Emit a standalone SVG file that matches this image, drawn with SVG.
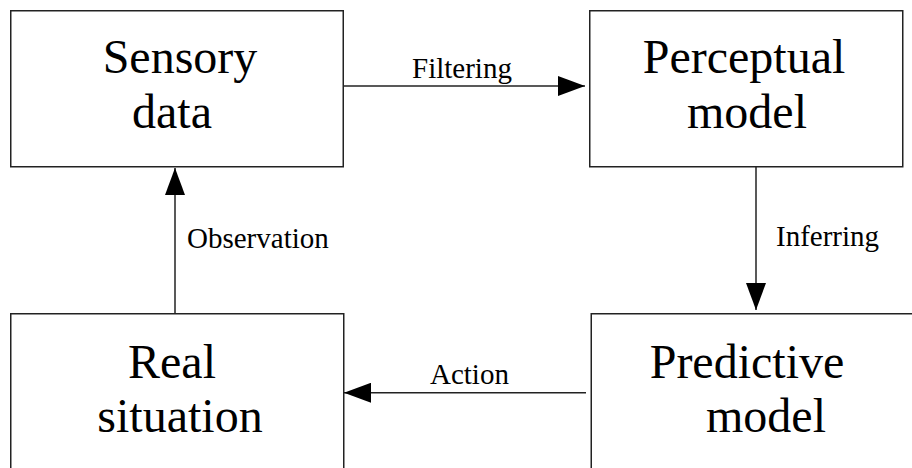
<svg xmlns="http://www.w3.org/2000/svg" width="912" height="468" viewBox="0 0 912 468">
  <style>
    .box { fill: #ffffff; stroke: #222222; stroke-width: 1.5; }
    .big { font-family: "Liberation Serif", "Times New Roman", serif; font-size: 48px; fill: #000000; text-anchor: middle; }
    .lbl { font-family: "Liberation Serif", "Times New Roman", serif; font-size: 29px; fill: #000000; }
    .edge { stroke: #222222; stroke-width: 1.5; fill: none; }
  </style>
  <defs>
    <marker id="arrow" viewBox="0 0 27 20" refX="27" refY="10" markerWidth="27" markerHeight="20" markerUnits="userSpaceOnUse" orient="auto">
      <path d="M0,0 L27,10 L0,20 Z" fill="#000000"/>
    </marker>
  </defs>
  <rect width="912" height="468" fill="#ffffff"/>

  <g id="sensory-data">
    <rect class="box" x="10.75" y="10.75" width="332.5" height="156"/>
    <text class="big" x="180" y="73">Sensory</text>
    <text class="big" x="172" y="128">data</text>
  </g>

  <g id="perceptual-model">
    <rect class="box" x="589.75" y="10.75" width="313" height="156"/>
    <text class="big" x="744" y="73">Perceptual</text>
    <text class="big" x="747" y="128">model</text>
  </g>

  <g id="real-situation">
    <rect class="box" x="10.75" y="313.75" width="333" height="200"/>
    <text class="big" x="172" y="378">Real</text>
    <text class="big" x="180" y="432">situation</text>
  </g>

  <g id="predictive-model">
    <rect class="box" x="591.25" y="313.75" width="360" height="200"/>
    <text class="big" x="747" y="378">Predictive</text>
    <text class="big" x="766" y="432">model</text>
  </g>

  <g id="connectors">
    <line class="edge" x1="343.25" y1="86" x2="585" y2="86" marker-end="url(#arrow)"/>
    <text class="lbl" x="412" y="78">Filtering</text>

    <line class="edge" x1="756" y1="166.75" x2="756" y2="310" marker-end="url(#arrow)"/>
    <text class="lbl" x="776" y="246">Inferring</text>

    <line class="edge" x1="586" y1="392.75" x2="344" y2="392.75" marker-end="url(#arrow)"/>
    <text class="lbl" x="430" y="384">Action</text>

    <line class="edge" x1="175" y1="313.75" x2="175" y2="168" marker-end="url(#arrow)"/>
    <text class="lbl" x="187" y="248">Observation</text>
  </g>
</svg>
